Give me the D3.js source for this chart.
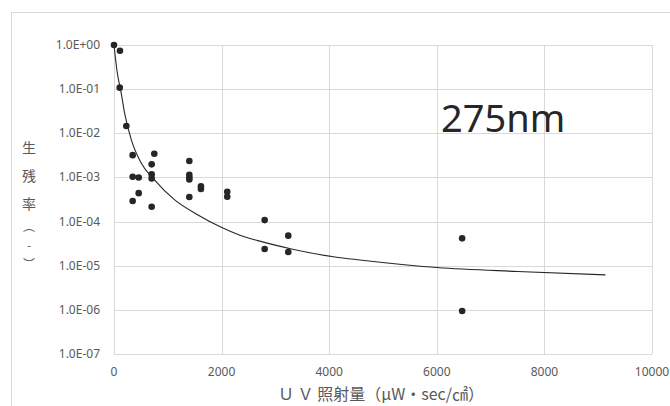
<!DOCTYPE html>
<html>
<head>
<meta charset="utf-8">
<script src="https://cdn.jsdelivr.net/npm/d3@7"></script>
<style>
  body { margin: 0; background: #fff; }
  svg { display: block; }
  text { font-family: "Noto Sans", "Noto Sans CJK JP", sans-serif; }
</style>
</head>
<body>
<div id="chart"></div>
<script>
// 測定点 (UV照射量, 生残率)
const doseValues = [0, 111, 106, 229, 347, 347, 347, 459, 459, 700, 700, 700, 700, 749,
  1400, 1400, 1400, 1400, 1400, 1616, 1616, 2105, 2105, 2800, 2800, 3239, 3239, 6471, 6471];
const survivalValues = [1.0, 0.74, 0.108, 0.0146, 3.2e-3, 1.04e-3, 2.92e-4, 1.0e-3, 4.4e-4,
  1.98e-3, 1.18e-3, 0.95e-3, 2.17e-4, 3.45e-3,
  2.36e-3, 1.15e-3, 1.0e-3, 0.9e-3, 3.6e-4, 6.3e-4, 5.5e-4, 4.75e-4, 3.66e-4,
  1.08e-4, 2.39e-5, 4.8e-5, 2.04e-5, 4.17e-5, 9.4e-7];

// 近似曲線
const curveDose = [0, 62, 124, 198, 322, 508, 756, 1128, 1561, 1994, 2341, 2675, 3300, 4106, 4570, 6006, 7500, 9135];
const curveSurvival = [1.0, 0.229, 0.0955, 0.0282, 7.1e-3, 2.09e-3, 8.7e-4, 3.09e-4, 1.41e-4,
  7.4e-5, 4.9e-5, 3.7e-5, 2.4e-5, 1.58e-5, 1.35e-5, 9.1e-6, 7.4e-6, 6.2e-6];

const xTicks = [0, 2000, 4000, 6000, 8000, 10000];
const yTicks = [1, 1e-1, 1e-2, 1e-3, 1e-4, 1e-5, 1e-6, 1e-7];
const yTitleChars = ["生", "残", "率", "︵", "-", "︶"];
const seriesLabel = "275nm";
const xTitle = "Ｕ Ｖ 照射量（μW・sec/㎠）";

const width = 670, height = 406;
const margin = { top: 45, right: 18, bottom: 52, left: 114 };

const svg = d3.select("#chart").append("svg")
  .attr("width", width)
  .attr("height", height);

// グラフエリアの枠
svg.append("rect")
  .attr("x", 11.5).attr("y", 12.5)
  .attr("width", 700).attr("height", 420)
  .attr("fill", "none").attr("stroke", "#d9d9d9");

const x = d3.scaleLinear()
  .domain([0, 10000])
  .range([margin.left, width - margin.right]);

const y = d3.scaleLog()
  .domain([1e-7, 1])
  .range([height - margin.bottom, margin.top]);

// grid
svg.append("g").selectAll("line")
  .data(xTicks)
  .join("line")
  .attr("x1", d => Math.round(x(d)) + 0.5).attr("x2", d => Math.round(x(d)) + 0.5)
  .attr("y1", y(1)).attr("y2", y(1e-7))
  .attr("stroke", "#d9d9d9");

svg.append("g").selectAll("line")
  .data(yTicks)
  .join("line")
  .attr("x1", x(0)).attr("x2", x(10000))
  .attr("y1", d => Math.round(y(d)) + 0.5).attr("y2", d => Math.round(y(d)) + 0.5)
  .attr("stroke", "#d9d9d9");

// ticks labels
svg.append("g").selectAll("text")
  .data(xTicks)
  .join("text")
  .attr("x", d => x(d))
  .attr("y", y(1e-7) + 22)
  .attr("text-anchor", "middle")
  .style("font-size", "12px")
  .style("fill", "#595959")
  .text(d => d);

svg.append("g").selectAll("text")
  .data(yTicks)
  .join("text")
  .attr("x", x(0) - 14)
  .attr("y", d => y(d) + 4)
  .attr("text-anchor", "end")
  .style("font-size", "12px")
  .style("fill", "#595959")
  .text(d => d.toExponential(1).toUpperCase().replace(/E([+-])(\d)$/, "E$10$2"));

// 近似曲線
const line = d3.line()
  .x((d, i) => x(curveDose[i]))
  .y((d, i) => y(curveSurvival[i]))
  .curve(d3.curveMonotoneX);

svg.append("path")
  .datum(curveDose)
  .attr("d", line)
  .attr("fill", "none")
  .attr("stroke", "#262626")
  .attr("stroke-width", 1.1);

// points
svg.append("g").selectAll("circle")
  .data(doseValues)
  .join("circle")
  .attr("cx", (d, i) => x(d))
  .attr("cy", (d, i) => y(survivalValues[i]))
  .attr("r", 3.3)
  .attr("fill", "#262626");

// label
svg.append("text")
  .attr("x", 441)
  .attr("y", 132)
  .style("font-size", "38px")
  .style("fill", "#262626")
  .text(seriesLabel);

// axis titles
svg.append("text")
  .attr("x", 381)
  .attr("y", 400)
  .attr("text-anchor", "middle")
  .style("font-family", "'Noto Sans CJK JP', sans-serif")
  .style("font-size", "16px")
  .style("fill", "#595959")
  .text(xTitle);

const yTitlePos = [147, 175, 203, 225, 244, 263];
svg.append("g").selectAll("text")
  .data(yTitleChars)
  .join("text")
  .attr("x", 29)
  .attr("y", (d, i) => yTitlePos[i])
  .attr("text-anchor", "middle")
  .attr("dominant-baseline", "central")
  .style("font-family", "'Noto Sans CJK JP', sans-serif")
  .style("font-size", (d, i) => i < 3 ? "14px" : "12px")
  .style("fill", "#595959")
  .text(d => d);
</script>
</body>
</html>
